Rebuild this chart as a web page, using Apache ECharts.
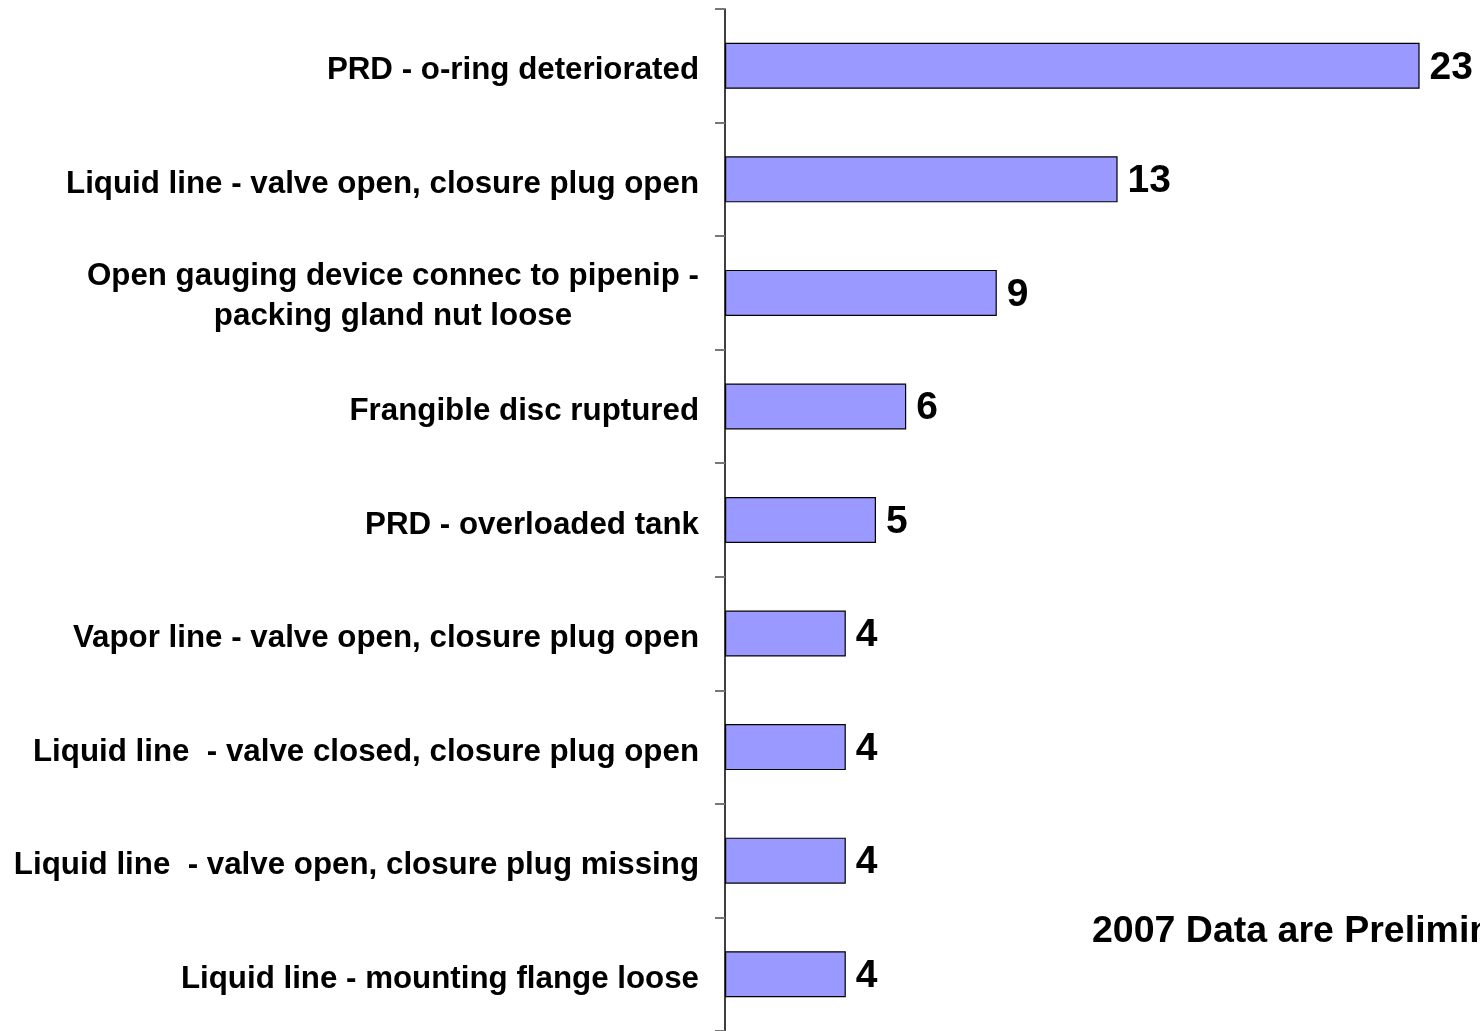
<!DOCTYPE html>
<html>
<head>
<meta charset="utf-8">
<script src="https://cdn.jsdelivr.net/npm/echarts@6/dist/echarts.min.js"></script>
<style>
  html, body { margin: 0; padding: 0; background: #fff; }
  #chart { width: 1480px; height: 1031px; }
</style>
</head>
<body>
<div id="chart"></div>
<script>
const categories = [
  'PRD - o-ring deteriorated',
  'Liquid line - valve open, closure plug open',
  'Open gauging device connec to pipenip -\npacking gland nut loose',
  'Frangible disc ruptured',
  'PRD - overloaded tank',
  'Vapor line - valve open, closure plug open',
  'Liquid line  - valve closed, closure plug open',
  'Liquid line  - valve open, closure plug missing',
  'Liquid line - mounting flange loose'
]
const counts = [23, 13, 9, 6, 5, 4, 4, 4, 4]
const note = '2007 Data are Preliminary'

const labelFont = 'bold 31.3px "Liberation Sans", Arial, sans-serif'

// widest line of the wrapped labels, so those lines can be centred under each other
const ctx = document.createElement('canvas').getContext('2d')
ctx.font = labelFont
let multiW = 0
categories.forEach((c) => {
  const lines = c.split('\n')
  if (lines.length > 1) {
    lines.forEach((l) => { multiW = Math.max(multiW, ctx.measureText(l).width) })
  }
})

const labelStyle = {
  fontFamily: '"Liberation Sans", Arial, sans-serif',
  fontSize: 31.3,
  fontWeight: 'bold',
  color: '#000',
  lineHeight: 30,
  padding: [10, 0, 0, 0]
}

const chart = echarts.init(document.getElementById('chart'))
chart.setOption({
  animation: false,
  textStyle: { fontFamily: '"Liberation Sans", Arial, sans-serif' },
  grid: { left: 725, top: 9, width: 758, height: 1026 },
  xAxis: {
    type: 'value',
    min: 0,
    max: 25,
    show: false
  },
  yAxis: {
    type: 'category',
    inverse: true,
    data: categories,
    axisLine: { show: true, lineStyle: { color: '#000', width: 1.5 } },
    axisTick: { show: true, length: 10, lineStyle: { color: '#777', width: 2 } },
    axisLabel: {
      margin: 26,
      align: 'right',
      formatter: (v) => {
        const lines = v.split('\n')
        if (lines.length === 1) return '{s|' + v + '}'
        return lines.map((l) => '{m|' + l + '}').join('\n')
      },
      rich: {
        s: labelStyle,
        m: Object.assign({}, labelStyle, {
          width: multiW,
          align: 'center',
          lineHeight: 40,
          padding: [6, 0, 0, 0]
        })
      }
    },
    splitLine: { show: false }
  },
  series: [
    {
      type: 'bar',
      data: counts,
      barWidth: 46,
      itemStyle: { color: '#9999ff', borderColor: '#000', borderWidth: 1.2 },
      label: {
        show: true,
        position: 'right',
        distance: 10,
        offset: [0, 2],
        color: '#000',
        fontWeight: 'bold',
        fontSize: 39
      }
    }
  ],
  graphic: [
    {
      type: 'text',
      x: 1092,
      y: 932,
      style: {
        text: note,
        fill: '#000',
        verticalAlign: 'middle',
        font: 'bold 37.5px "Liberation Sans", Arial, sans-serif'
      }
    }
  ]
})
</script>
</body>
</html>
